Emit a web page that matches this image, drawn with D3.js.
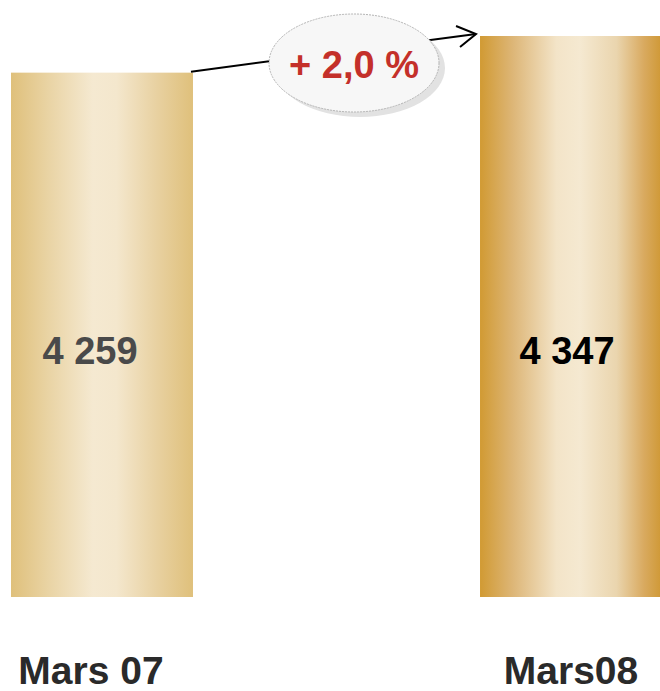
<!DOCTYPE html>
<head>
<meta charset="UTF-8">
<script src="https://d3js.org/d3.v7.min.js"></script>
<style>
  body { margin: 0; background: #fff; }
  text { font-family: "Liberation Sans", Arial, sans-serif; font-weight: bold; }
</style>
</head>
<body>
<svg></svg>
<script>
var width = 660, height = 691;

// data
var periodes = ["Mars 07", "Mars08"];
var valeurs = [4259, 4347];
var etiquettes = ["4 259", "4 347"];
var variation = "+ 2,0 %";

var svg = d3.select("svg").attr("width", width).attr("height", height);

var x = d3.scaleBand()
    .domain(periodes)
    .range([11, 662])
    .paddingInner(0.612)
    .paddingOuter(0);

// l'axe ne part pas de zero
var y = d3.scaleLinear()
    .domain([3000, 4347])
    .range([597, 36]);

// degrades dores
var defs = svg.append("defs");
var degrades = [
  [["0%", "#dfc07b"], ["20%", "#e9d3a3"], ["45%", "#f5e9d1"], ["58%", "#f4e7cd"], ["80%", "#e8d1a1"], ["100%", "#dfc07b"]],
  [["0%", "#d19a33"], ["18%", "#ddb677"], ["42%", "#f3e4c8"], ["55%", "#f5e9d1"], ["75%", "#ead5ae"], ["90%", "#d9aa60"], ["100%", "#cf9834"]]
];
degrades.forEach(function(stops, i) {
  var g = defs.append("linearGradient").attr("id", "or" + i)
    .attr("x1", "0%").attr("x2", "100%").attr("y1", "0%").attr("y2", "0%");
  g.selectAll("stop").data(stops).enter().append("stop")
    .attr("offset", d => d[0]).attr("stop-color", d => d[1]);
});

svg.selectAll(".barre")
  .data(valeurs)
  .enter().append("rect")
  .attr("class", "barre")
  .attr("x", (d, i) => x(periodes[i]))
  .attr("y", d => y(d))
  .attr("width", x.bandwidth())
  .attr("height", d => y.range()[0] - y(d))
  .attr("fill", (d, i) => "url(#or" + i + ")");

// valeurs dans les barres
svg.selectAll(".valeur")
  .data(etiquettes)
  .enter().append("text")
  .attr("class", "valeur")
  .attr("x", (d, i) => x(periodes[i]) + x.bandwidth() / 2 - (i == 0 ? 12 : 4))
  .attr("y", 364)
  .attr("text-anchor", "middle")
  .attr("font-size", 38)
  .attr("fill", (d, i) => i == 0 ? "#4a4a4a" : "#000")
  .text(d => d);

// libelles
svg.selectAll(".periode")
  .data(periodes)
  .enter().append("text")
  .attr("class", "periode")
  .attr("x", (d, i) => x(d) + x.bandwidth() / 2 - (i == 0 ? 11 : 0))
  .attr("y", 684)
  .attr("text-anchor", "middle")
  .attr("font-size", 39)
  .attr("fill", "#2a2a2a")
  .text(d => d);

// fleche entre les deux barres
var x0 = x(periodes[0]) + x.bandwidth() - 2, y0 = y(valeurs[0]) - 1;
var x1 = x(periodes[1]) - 4, y1 = y(valeurs[1]) - 2;
svg.append("line")
  .attr("x1", x0).attr("y1", y0).attr("x2", x1).attr("y2", y1)
  .attr("stroke", "#000").attr("stroke-width", 2);
svg.append("polyline")
  .attr("points", [[x1 - 20, y1 - 8], [x1, y1], [x1 - 16, y1 + 13]].map(p => p.join(",")).join(" "))
  .attr("fill", "none").attr("stroke", "#000").attr("stroke-width", 2);

// bulle
var cx = 354, cy = 63;
svg.append("ellipse")
  .attr("cx", cx + 6).attr("cy", cy + 5).attr("rx", 85).attr("ry", 49)
  .attr("fill", "#e2e2e2");
svg.append("ellipse")
  .attr("cx", cx).attr("cy", cy).attr("rx", 85).attr("ry", 49)
  .attr("fill", "#f7f7f7").attr("stroke", "#b5b5b5").attr("stroke-width", 1)
  .attr("stroke-dasharray", "2,1");
svg.append("text")
  .attr("x", cx).attr("y", 78)
  .attr("text-anchor", "middle")
  .attr("font-size", 38)
  .attr("fill", "#c4302a")
  .text(variation);
</script>
</body>
